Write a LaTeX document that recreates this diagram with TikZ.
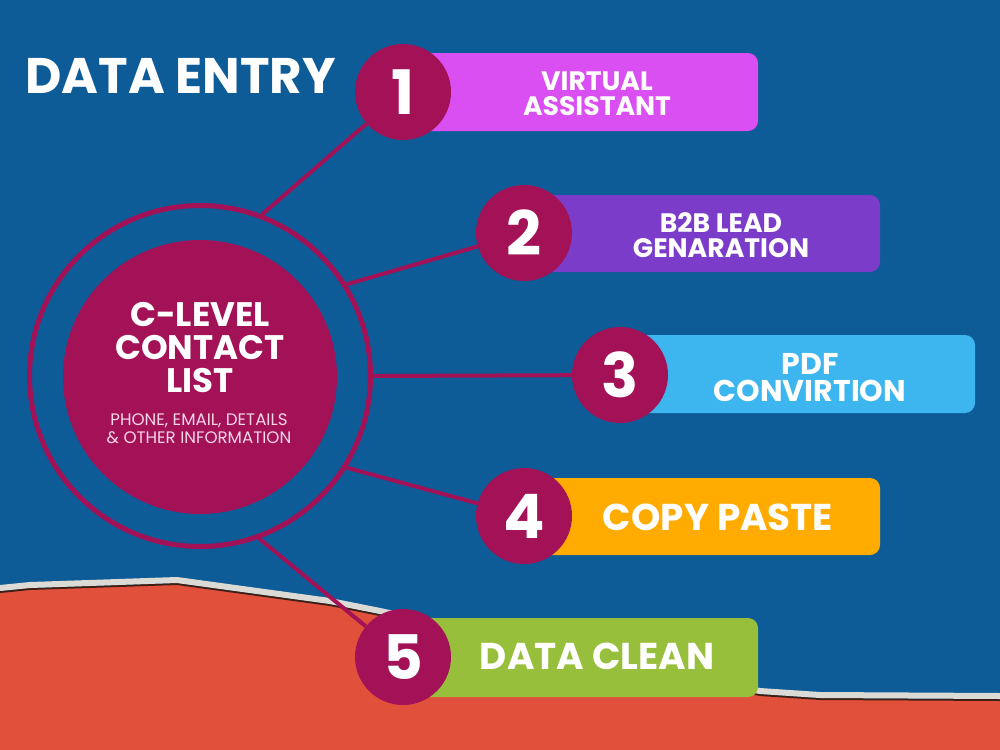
\documentclass[tikz,border=0pt]{standalone}
\usepackage{fontspec}
\newfontfamily\pop{Poppins}
\definecolor{bgblue}{HTML}{0D5B97}
\definecolor{crim}{HTML}{A31257}
\definecolor{cA}{HTML}{D94FF2}
\definecolor{cB}{HTML}{7B3DC9}
\definecolor{cC}{HTML}{3DB6EF}
\definecolor{cD}{HTML}{FFAB00}
\definecolor{cE}{HTML}{97BF3B}
\definecolor{redwall}{HTML}{E1503A}
\definecolor{stripc}{HTML}{DCDAD5}
\definecolor{shadec}{HTML}{3C2018}
\definecolor{pale}{HTML}{F4D6E6}
\pgfdeclarelayer{back}
\pgfdeclarelayer{links}
\pgfsetlayers{back,links,main}
\begin{document}
\begin{tikzpicture}[x=0.75pt,y=-0.75pt,
  num/.style={circle,fill=crim,minimum size=72pt,inner sep=0pt,text=white,
    font=\pop\bfseries\fontsize{46}{46}\selectfont},
  conn/.style={draw=crim,line width=3pt},
  boxlbl/.style={anchor=base,text=white,inner sep=0pt,
    font=\pop\bfseries\fontsize{20}{20}\selectfont},
  boxlblb/.style={anchor=base,text=white,inner sep=0pt,
    font=\pop\bfseries\fontsize{22.5}{22.5}\selectfont},
  biglbl/.style={anchor=base,text=white,inner sep=0pt,
    font=\pop\bfseries\fontsize{28}{28}\selectfont},
  ctitle/.style={anchor=base,text=white,inner sep=0pt,
    font=\pop\bfseries\fontsize{25.5}{25.5}\selectfont},
  csub/.style={anchor=base,text=pale,inner sep=0pt,
    font=\pop\fontsize{12.5}{12.5}\selectfont},
  itembox/.style={rounded corners=7.5pt}
]
\useasboundingbox (0,0) rectangle (1000,750);
\begin{pgfonlayer}{back}
  \fill[bgblue] (0,0) rectangle (1000,750);
  \fill[redwall] (0,592) -- (30,589) -- (177,584) -- (330,605) -- (380,615)
    -- (760,695) -- (820,699) -- (1000,700) -- (1000,750) -- (0,750) -- cycle;
  \draw[shadec,line width=1.5pt] (0,592) -- (30,589) -- (177,584) -- (330,605) -- (380,615)
    -- (760,695) -- (820,699) -- (1000,700);
  \draw[stripc,line width=4.5pt] (0,588) -- (30,585) -- (177,580) -- (330,601) -- (380,611)
    -- (760,691) -- (820,695) -- (1000,696);
\end{pgfonlayer}

% title
\node[anchor=base west,text=white,inner sep=0pt,
  font=\pop\bfseries\fontsize{37.5}{37.5}\selectfont] (title) at (25,93) {DATA ENTRY};

% central circle
\node[circle,draw=crim,line width=3.75pt,minimum size=255.75pt,inner sep=0pt] (ring) at (200,376) {};
\node[circle,fill=crim,minimum size=205.5pt,inner sep=0pt] (core) at (200,377) {};
\node[ctitle] (c1) at (200,326) {C-LEVEL};
\node[ctitle] (c2) at (200,359) {CONTACT};
\node[ctitle] (c3) at (200,392) {LIST};
\node[csub] (s1) at (199,425) {PHONE, EMAIL, DETAILS};
\node[csub] (s2) at (199,443) {\& OTHER INFORMATION};

% boxes
\fill[cA,itembox] (405,53) rectangle (758,131);
\fill[cB,itembox] (525,195) rectangle (880,272);
\fill[cC,itembox] (620,335) rectangle (975,413);
\fill[cD,itembox] (525,478) rectangle (880,555);
\fill[cE,itembox] (405,618) rectangle (758,697);

\node[boxlbl] (t1a) at (597,90) {VIRTUAL};
\node[boxlbl] (t1b) at (597,115) {ASSISTANT};
\node[boxlbl] (t2a) at (721,232) {B2B LEAD};
\node[boxlbl] (t2b) at (721,257) {GENARATION};
\node[boxlblb] (t3a) at (810,374) {PDF};
\node[boxlblb] (t3b) at (810,401) {CONVIRTION};
\node[biglbl] (t4) at (718,530) {COPY PASTE};
\node[biglbl] (t5) at (597,669) {DATA CLEAN};

% number circles
\node[num] (n1) at (403,92) {1};
\node[num] (n2) at (524,233) {2};
\node[num] (n3) at (620,375) {3};
\node[num] (n4) at (524,516) {4};
\node[num] (n5) at (403,657) {5};

\begin{pgfonlayer}{links}
  \draw[conn] (ring.69) -- (n1);
  \draw[conn] (ring.32) -- (n2);
  \draw[conn] (ring.0) -- (n3);
  \draw[conn] (ring.-32) -- (n4);
  \draw[conn] (ring.-70.5) -- (n5);
\end{pgfonlayer}
\end{tikzpicture}
\end{document}
